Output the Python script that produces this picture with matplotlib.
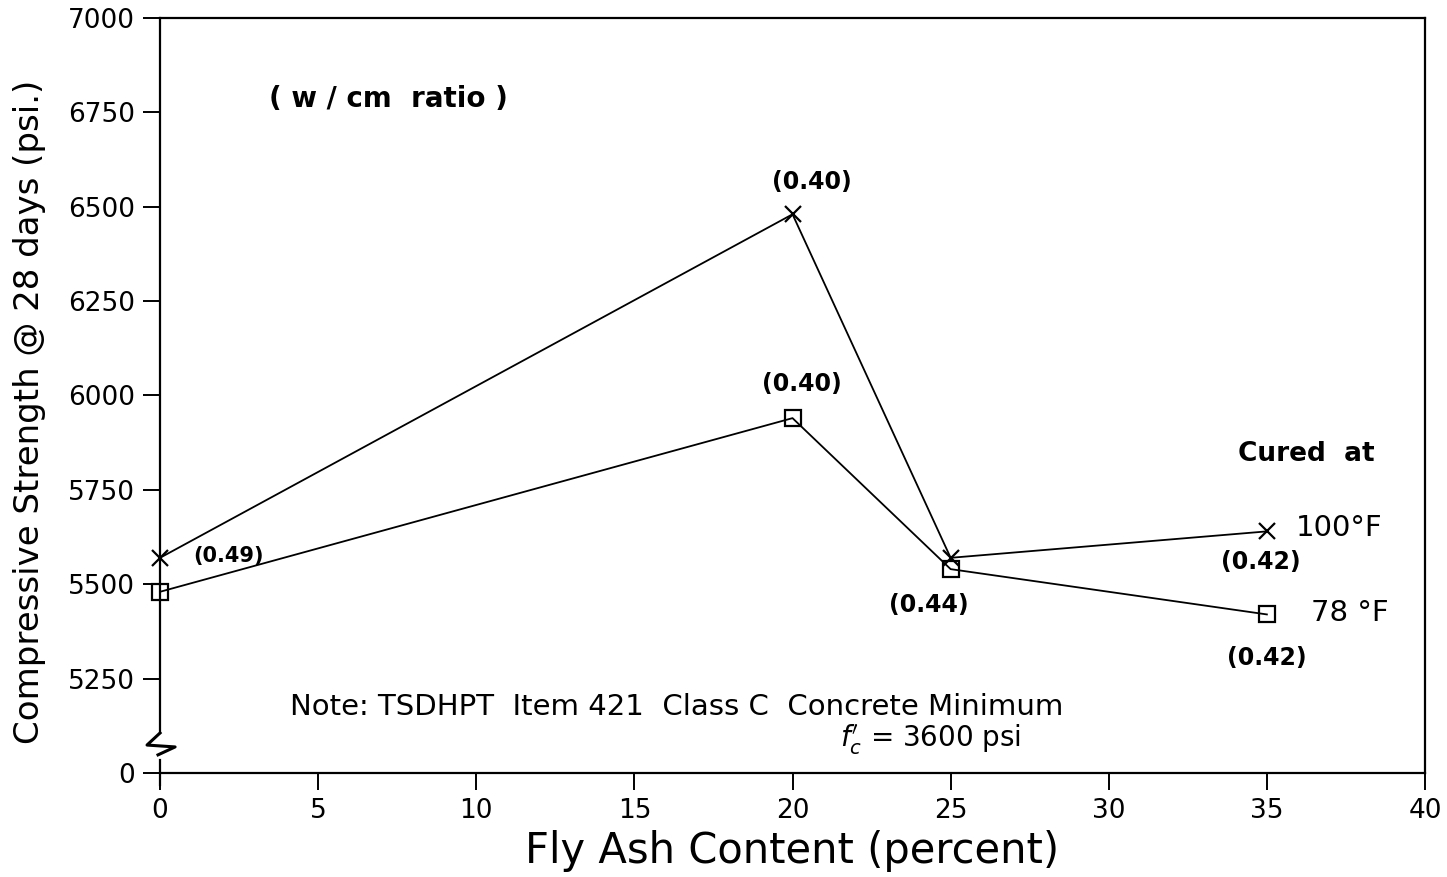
import matplotlib
matplotlib.use("Agg")
import matplotlib.pyplot as plt

# data
fly_ash = [0, 20, 25, 35]
strength_100F = [5570, 6480, 5570, 5640]
strength_78F = [5480, 5940, 5540, 5420]

y_ticks = [5000, 5250, 5500, 5750, 6000, 6250, 6500, 6750, 7000]
y_labels = ["0", "5250", "5500", "5750", "6000", "6250", "6500", "6750", "7000"]
x_ticks = [0, 5, 10, 15, 20, 25, 30, 35, 40]

plt.rcParams["font.family"] = "DejaVu Sans"

fig = plt.figure(figsize=(14.47, 8.77), dpi=100)
ax = fig.add_axes([0.1106, 0.1186, 0.8742, 0.8609])

ax.plot(fly_ash, strength_100F, color="black", lw=1.3, marker="x",
        markersize=12, markeredgewidth=1.6, clip_on=False, zorder=3)
ax.plot(fly_ash, strength_78F, color="black", lw=1.3, marker="s",
        markersize=11, markerfacecolor="none", markeredgewidth=1.6,
        clip_on=False, zorder=3)

ax.set_xlim(0, 40)
ax.set_ylim(5000, 7000)
ax.set_xticks(x_ticks)
ax.set_yticks(y_ticks)
ax.set_yticklabels(y_labels)
ax.tick_params(axis="both", direction="out", length=12, width=1.4,
               labelsize=19, pad=6)
for s in ax.spines.values():
    s.set_linewidth(1.6)
ax.spines["left"].set_bounds(5106, 7000)

# axis break mark (z shaped) and short stub down to zero
tr = ax.get_yaxis_transform()
ax.plot([0, -0.0103, 0.0119, -0.0016], [5106, 5074, 5069, 5048],
        transform=tr, color="black", lw=2.2, clip_on=False)
ax.plot([0, 0], [4968, 5034], transform=tr, color="black", lw=1.6, clip_on=False)

ax.set_xlabel("Fly Ash Content (percent)", fontsize=30, labelpad=4)
ax.set_ylabel("Compressive Strength @ 28 days (psi.)", fontsize=24.5)
ax.yaxis.set_label_coords(-0.09, 0.478)

# w/cm ratio labels
lab = dict(fontsize=17, fontweight="bold", ha="center", va="center")
ax.text(1.05, 5575, "(0.49)", ha="left", va="center", fontsize=15, fontweight="bold")
ax.text(20.6, 6565, "(0.40)", **lab)
ax.text(20.3, 6030, "(0.40)", **lab)
ax.text(24.3, 5445, "(0.44)", **lab)
ax.text(34.8, 5560, "(0.42)", **lab)
ax.text(35.0, 5305, "(0.42)", **lab)

ax.text(3.45, 6785, "( w / cm  ratio )", fontsize=20, fontweight="bold",
        ha="left", va="center")
ax.text(34.1, 5845, "Cured  at", fontsize=19, fontweight="bold",
        ha="left", va="center")
ax.text(35.9, 5648, "100°F", fontsize=21, ha="left", va="center")
ax.text(36.4, 5425, "78 °F", fontsize=21, ha="left", va="center")

ax.text(4.1, 5175, "Note: TSDHPT  Item 421  Class C  Concrete Minimum",
        fontsize=21, ha="left", va="center")
ax.text(21.5, 5088, r"$f^{\prime}_{c}$ = 3600 psi", fontsize=20,
        ha="left", va="center")

fig.savefig("out.png", dpi=100)
